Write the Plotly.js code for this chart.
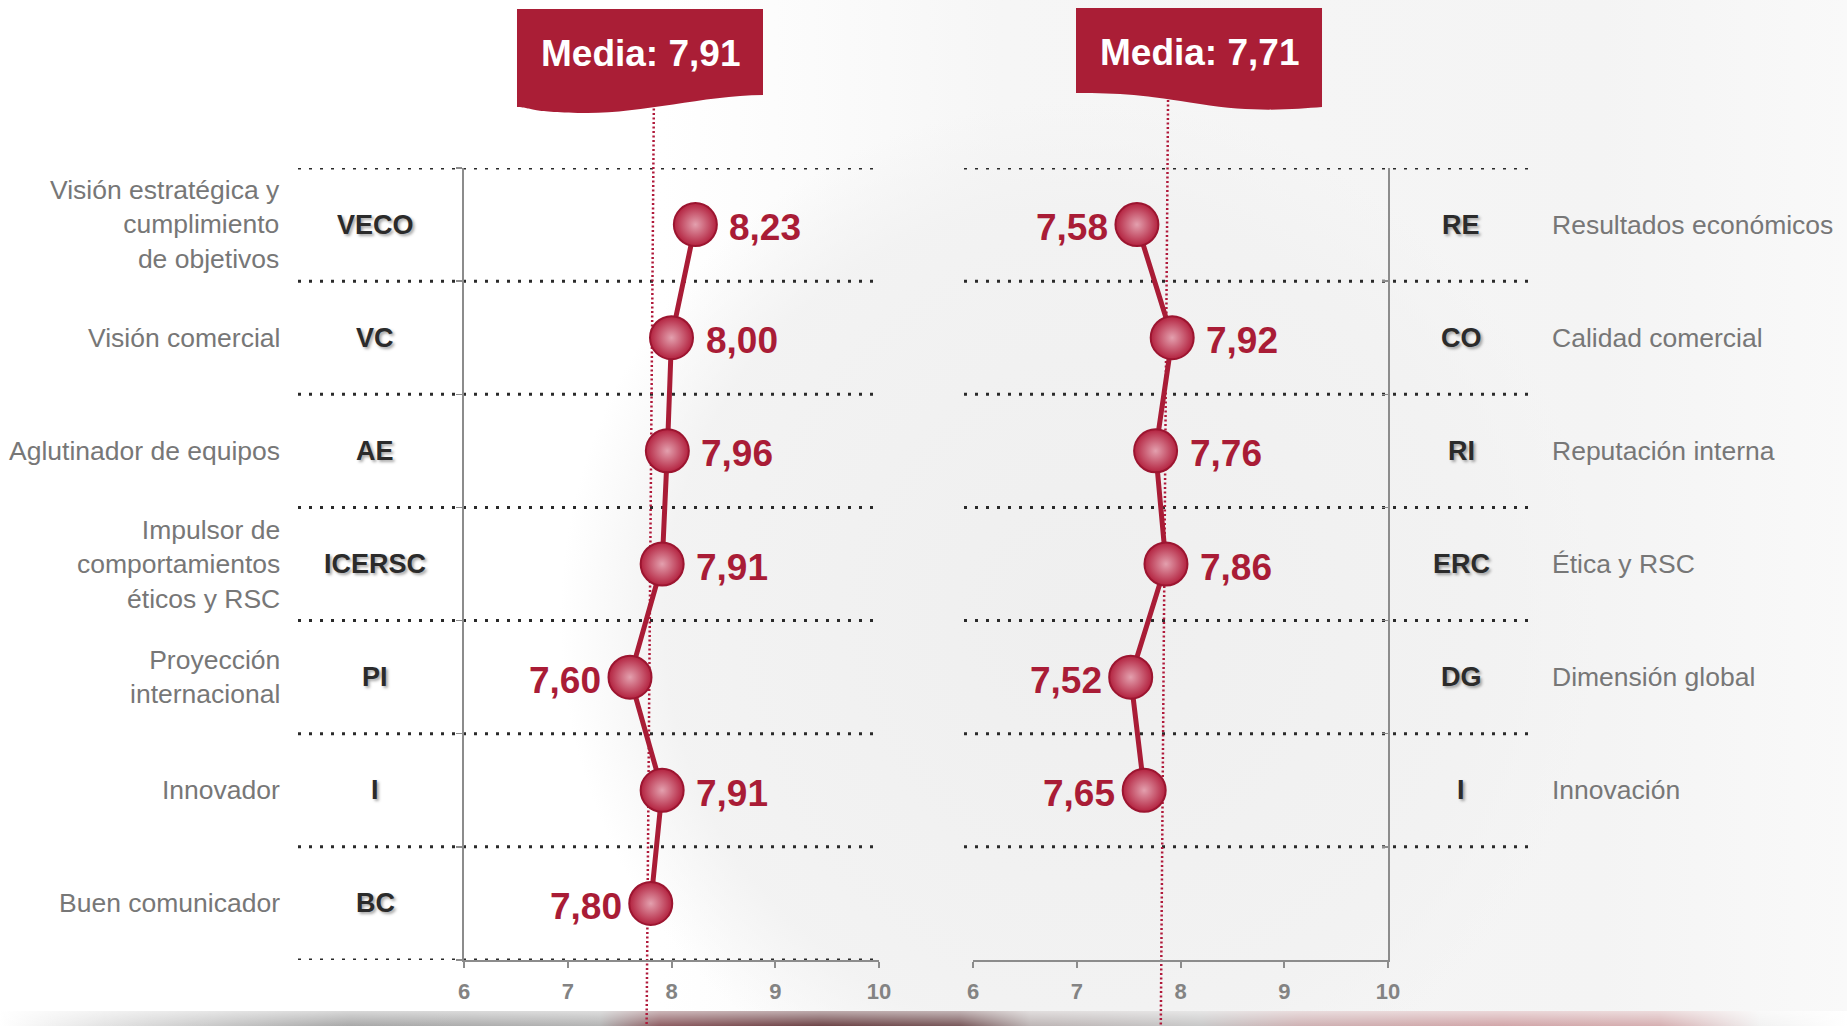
<!DOCTYPE html>
<html>
<head>
<meta charset="utf-8">
<script src="https://cdn.plot.ly/plotly-3.0.1.min.js"></script>
<style>
html,body{margin:0;padding:0;background:#ffffff;}
#chart{
  width:1847px;height:1026px;
  background:
    linear-gradient(to bottom, rgba(255,255,255,0.55), rgba(255,255,255,0)) left 1011px / 100% 15px no-repeat,
    linear-gradient(to right, #ffffff 0px, #d8d8d8 150px, #a8a8a8 350px, #b4b4b4 600px, #8e5e63 660px, #6e4548 820px, #7a5a5c 960px, #bdb5b5 1030px, #c8c8c8 1200px, #cfb2b4 1300px, #d2a6a9 1500px, #d6b0b2 1660px, #f2f2f2 1760px, #ffffff 1847px) left 1011px / 100% 15px no-repeat,
    radial-gradient(ellipse 520px 520px at 1080px 620px, rgba(239,239,239,1) 0%, rgba(242,242,242,0.95) 80%, rgba(244,244,244,0) 100%),
    linear-gradient(to right, #ffffff 0px, #ffffff 660px, #f6f6f6 1000px, #f4f4f4 1600px, #f9f9f9 1847px);
}
</style>
</head>
<body>
<div id="chart"></div>
<script>
// ---- data ----
const leftCodes = ['VECO', 'VC', 'AE', 'ICERSC', 'PI', 'I', 'BC'];
const leftNames = ['Visión estratégica y<br>cumplimiento<br>de objetivos', 'Visión comercial', 'Aglutinador de equipos',
                   'Impulsor de<br>comportamientos<br>éticos y RSC', 'Proyección<br>internacional', 'Innovador', 'Buen comunicador'];
const leftValues = [8.23, 8.00, 7.96, 7.91, 7.60, 7.91, 7.80];
const leftLabelSide = ['right', 'right', 'right', 'right', 'left', 'right', 'left'];

const rightCodes = ['RE', 'CO', 'RI', 'ERC', 'DG', 'I'];
const rightNames = ['Resultados económicos', 'Calidad comercial', 'Reputación interna', 'Ética y RSC', 'Dimensión global', 'Innovación'];
const rightValues = [7.58, 7.92, 7.76, 7.86, 7.52, 7.65];
const rightLabelSide = ['left', 'right', 'right', 'right', 'left', 'left'];

const meanValues = [7.91, 7.71];
const meanLineTop = [7.83, 7.88];     // where the dotted mean lines sit in the picture (top)
const meanLineBottom = [7.76, 7.81];  // and at the bottom
const xTicks = [6, 7, 8, 9, 10];

// ---- helpers ----
const W = 1847, H = 1026;
const fmt = v => v.toFixed(2).replace('.', ',');
const FONT = 'Liberation Sans, Arial, sans-serif';
const RED = '#a91c36';
const leftRows = leftValues.map((_, i) => i);
const rightRows = rightValues.map((_, i) => i);
const px = (x, y) => (x / W).toFixed(5) + ',' + (1 - y / H).toFixed(5);

const markerStyle = {
  size: 43,
  color: '#b3223f',
  line: {color: '#9c1530', width: 2},
  gradient: {type: 'radial', color: '#e3a0ae'}
};

const traces = [
  {
    x: leftValues, y: leftRows, xaxis: 'x', yaxis: 'y',
    type: 'scatter', mode: 'lines+markers',
    line: {color: RED, width: 5},
    marker: markerStyle,
    cliponaxis: false, hoverinfo: 'skip', showlegend: false
  },
  {
    x: rightValues, y: rightRows, xaxis: 'x2', yaxis: 'y2',
    type: 'scatter', mode: 'lines+markers',
    line: {color: RED, width: 5},
    marker: markerStyle,
    cliponaxis: false, hoverinfo: 'skip', showlegend: false
  }
];

const yDomain = [1 - 960 / H, 1 - 168 / H];
const boundaries = [-0.5, 0.5, 1.5, 2.5, 3.5, 4.5, 5.5, 6.5];
const axisGray = '#8c8c8c';

const xBase = {
  range: [6, 10], tickvals: xTicks, ticktext: xTicks.map(String),
  ticks: 'outside', ticklen: 6, tickwidth: 2, tickcolor: axisGray,
  showline: true, linecolor: axisGray, linewidth: 2,
  showgrid: false, zeroline: false, fixedrange: true,
  tickfont: {family: FONT, size: 22, color: '#838383', weight: 700},
  ticklabelstandoff: 5
};
const yBase = {
  range: [6.5, -0.5], domain: yDomain, tickvals: boundaries,
  ticklen: 6, tickwidth: 1.5, tickcolor: axisGray,
  showline: true, linecolor: axisGray, linewidth: 2,
  showticklabels: false, showgrid: false, zeroline: false, fixedrange: true
};

const shapes = [];
// dotted row separators
boundaries.forEach(b => {
  shapes.push({type: 'line', xref: 'paper', yref: 'y', x0: 298 / W, x1: 880 / W, y0: b, y1: b,
               line: {color: '#2a2a2a', width: 3, dash: '3px,8px'}, layer: 'below'});
});
boundaries.slice(0, rightValues.length + 1).forEach(b => {
  shapes.push({type: 'line', xref: 'paper', yref: 'y2', x0: 964 / W, x1: 1534 / W, y0: b, y1: b,
               line: {color: '#2a2a2a', width: 3, dash: '3px,8px'}, layer: 'below'});
});
// mean lines
shapes.push({type: 'line', xref: 'x', yref: 'paper', x0: meanLineTop[0], x1: meanLineBottom[0], y0: 1 - 104 / H, y1: 0,
             line: {color: '#b0193a', width: 2.5, dash: '2px,2.5px'}, layer: 'below'});
shapes.push({type: 'line', xref: 'x2', yref: 'paper', x0: meanLineTop[1], x1: meanLineBottom[1], y0: 1 - 100 / H, y1: 0,
             line: {color: '#b0193a', width: 2.5, dash: '2px,2.5px'}, layer: 'below'});
// banners
shapes.push({type: 'path', xref: 'paper', yref: 'paper', layer: 'above',
  path: 'M' + px(517, 9) + ' L' + px(763, 9) + ' L' + px(763, 95) +
        ' C' + px(700, 96) + ' ' + px(640, 114) + ' ' + px(583, 113) +
        ' S' + px(535, 108) + ' ' + px(517, 107) + ' Z',
  fillcolor: '#aa1e36', line: {width: 0}});
shapes.push({type: 'path', xref: 'paper', yref: 'paper', layer: 'above',
  path: 'M' + px(1076, 8) + ' L' + px(1322, 8) + ' L' + px(1322, 107) +
        ' C' + px(1295, 109) + ' ' + px(1255, 113) + ' ' + px(1200, 104) +
        ' S' + px(1120, 93) + ' ' + px(1076, 93) + ' Z',
  fillcolor: '#aa1e36', line: {width: 0}});

const annotations = [];
const valueFont = {family: FONT, size: 37, color: RED, weight: 700};
function addValueLabels(values, sides, xr, yr) {
  values.forEach((v, i) => {
    const right = sides[i] === 'right';
    annotations.push({xref: xr, yref: yr, x: v, y: i,
      xanchor: right ? 'left' : 'right', yanchor: 'middle',
      xshift: right ? 32 : -27, yshift: -3,
      text: fmt(v), showarrow: false, font: valueFont});
  });
}
addValueLabels(leftValues, leftLabelSide, 'x', 'y');
addValueLabels(rightValues, rightLabelSide, 'x2', 'y2');

leftNames.forEach((n, i) => {
  annotations.push({xref: 'paper', yref: 'y', x: 282 / W, y: i, xanchor: 'right', yanchor: 'middle',
    text: n, align: 'right', showarrow: false,
    font: {family: FONT, size: 26.5, color: '#777777'}});
});
leftCodes.forEach((c, i) => {
  annotations.push({xref: 'paper', yref: 'y', x: 375 / W, y: i, xanchor: 'center', yanchor: 'middle',
    text: c, showarrow: false,
    font: {family: FONT, size: 27, color: '#2b2b2b', weight: 700, shadow: '2px 2px 3px rgba(0,0,0,0.35)'}});
});
rightCodes.forEach((c, i) => {
  annotations.push({xref: 'paper', yref: 'y2', x: 1461 / W, y: i, xanchor: 'center', yanchor: 'middle',
    text: c, showarrow: false,
    font: {family: FONT, size: 27, color: '#2b2b2b', weight: 700, shadow: '2px 2px 3px rgba(0,0,0,0.35)'}});
});
rightNames.forEach((n, i) => {
  annotations.push({xref: 'paper', yref: 'y2', x: 1550 / W, y: i, xanchor: 'left', yanchor: 'middle',
    text: n, align: 'left', showarrow: false,
    font: {family: FONT, size: 26.5, color: '#777777'}});
});
// mean banners text
annotations.push({xref: 'paper', yref: 'paper', x: 640 / W, y: 1 - 53 / H, xanchor: 'center', yanchor: 'middle',
  text: 'Media: ' + fmt(meanValues[0]), showarrow: false,
  font: {family: FONT, size: 37, color: '#ffffff', weight: 700}});
annotations.push({xref: 'paper', yref: 'paper', x: 1199 / W, y: 1 - 52 / H, xanchor: 'center', yanchor: 'middle',
  text: 'Media: ' + fmt(meanValues[1]), showarrow: false,
  font: {family: FONT, size: 37, color: '#ffffff', weight: 700}});

const layout = {
  width: W, height: H,
  margin: {l: 0, r: 0, t: 0, b: 0},
  paper_bgcolor: 'rgba(0,0,0,0)', plot_bgcolor: 'rgba(0,0,0,0)',
  showlegend: false,
  xaxis: Object.assign({}, xBase, {domain: [464 / W, 879 / W], anchor: 'y'}),
  xaxis2: Object.assign({}, xBase, {domain: [973 / W, 1388 / W], anchor: 'y2'}),
  yaxis: Object.assign({}, yBase, {anchor: 'x', ticks: 'outside', side: 'left'}),
  yaxis2: Object.assign({}, yBase, {anchor: 'x2', ticks: 'inside', side: 'right'}),
  shapes: shapes,
  annotations: annotations
};

Plotly.newPlot('chart', traces, layout, {displayModeBar: false, staticPlot: true});
</script>
</body>
</html>
